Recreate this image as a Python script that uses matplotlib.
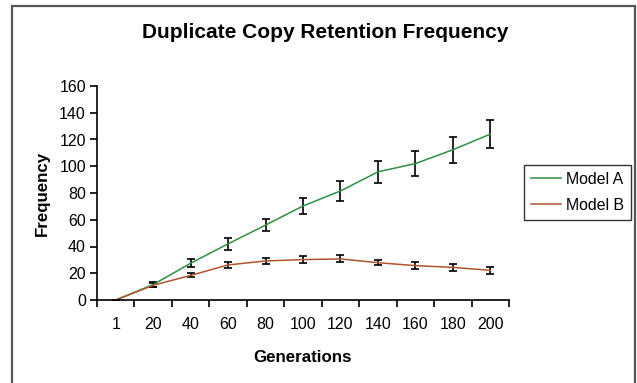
import matplotlib.pyplot as plt
import matplotlib.patches

plt.rcParams['font.family'] = ['Liberation Sans', 'DejaVu Sans']

generations = ["1", "20", "40", "60", "80", "100", "120", "140", "160", "180", "200"]
model_a = [0, 11.5, 27.5, 42, 56, 70.3, 81.5, 95.8, 102, 112.3, 124]
model_a_err = [0, 1.7, 3.1, 4.4, 4.7, 6.1, 7.8, 8.3, 9.5, 9.6, 10.5]
model_b = [0, 11, 18.4, 26.2, 29.2, 30.2, 30.7, 27.9, 25.7, 24.4, 22.2]
model_b_err = [0, 1.5, 1.5, 2.0, 2.2, 2.7, 2.6, 1.9, 2.5, 2.5, 2.4]

W, H = 637, 383
fig = plt.figure(figsize=(W / 100, H / 100), dpi=100)

# outer chart frame (bottom edge runs off the picture)
fig.patches.append(matplotlib.patches.Rectangle(
    (12 / W, -0.05), (635 - 12) / W, 1 - 6 / H + 0.05,
    transform=fig.transFigure, fill=False, edgecolor="#555555", linewidth=1.6))

ax = fig.add_axes([97 / W, 1 - 300 / H, (509 - 97) / W, (300 - 86) / H])

x = list(range(len(generations)))
green = "#2f8f46"
brown = "#b0552c"

ax.errorbar(x, model_a, yerr=model_a_err, color=green, linewidth=1.1,
            ecolor="black", elinewidth=1.2, capsize=3, capthick=1.2, label="Model A")
ax.errorbar(x, model_b, yerr=model_b_err, color=brown, linewidth=1.1,
            ecolor="black", elinewidth=1.2, capsize=3, capthick=1.2, label="Model B")

ax.set_xlim(-0.5, len(generations) - 0.5)
ax.set_ylim(0, 160)
ax.set_yticks(range(0, 161, 20))
ax.set_xticks(x)
ax.set_xticklabels(generations)
ax.set_xticks([i - 0.5 for i in range(len(generations) + 1)], minor=True)
ax.tick_params(axis="x", which="major", length=0, pad=12, labelsize=11.5)
ax.tick_params(axis="x", which="minor", length=5, direction="out", width=1.2)
ax.tick_params(axis="y", length=5, width=1.2, labelsize=11.5, pad=3)

for s in ("top", "right"):
    ax.spines[s].set_visible(False)
for s in ("left", "bottom"):
    ax.spines[s].set_linewidth(1.2)

ax.set_xlabel("Generations", fontsize=12.2, fontweight="bold", labelpad=13)
ax.set_ylabel("Frequency", fontsize=12.2, fontweight="bold", labelpad=7)

fig.text(325 / W, 1 - 32 / H, "Duplicate Copy Retention Frequency",
         ha="center", va="center", fontsize=15, fontweight="bold")

handles, labels = ax.get_legend_handles_labels()
handles = [h[0] for h in handles]
leg = fig.legend(handles, labels, loc="center", bbox_to_anchor=(577.5 / W, 1 - 192.5 / H),
                 frameon=True, fancybox=False, edgecolor="black", fontsize=11.4,
                 handlelength=1.9, handletextpad=0.3, borderpad=0.45, labelspacing=0.7,
                 borderaxespad=0)
leg.get_frame().set_linewidth(1.0)

fig.savefig("out.png", dpi=100)
